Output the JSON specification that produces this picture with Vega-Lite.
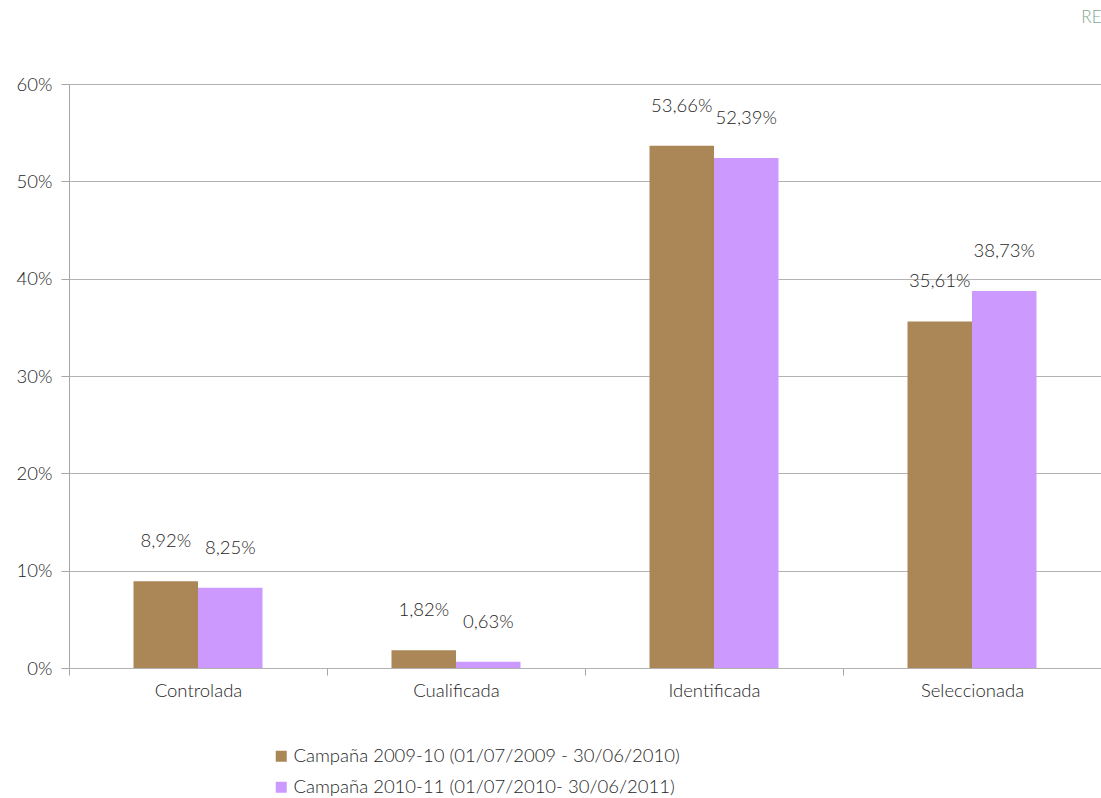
{
  "$schema": "https://vega.github.io/schema/vega-lite/v6.json",
  "width": 1032,
  "height": 584,
  "autosize": {"type": "none"},
  "padding": {"left": 69, "top": 84, "right": 0, "bottom": 130},
  "background": "white",
  "title": {
    "text": "RE",
    "anchor": "end",
    "align": "right",
    "offset": 58,
    "font": "Lato",
    "fontSize": 17,
    "fontWeight": 300,
    "color": "#7fa890",
    "dy": 10
  },
  "config": {
    "locale": {
      "number": {"decimal": ",", "thousands": ".", "grouping": [3], "currency": ["", " €"]}
    },
    "font": "Lato",
    "view": {"stroke": null},
    "axis": {
      "labelFont": "Lato",
      "labelFontSize": 18.5,
      "labelFontWeight": 300,
      "labelColor": "#262626",
      "domainColor": "#a6a6a6",
      "tickColor": "#a6a6a6",
      "gridColor": "#b3b3b3",
      "title": null
    }
  },
  "data": {
    "values": [
      {"categoria": "Controlada", "campana": "Campaña 2009-10 (01/07/2009 - 30/06/2010)", "valor": 0.0892},
      {"categoria": "Controlada", "campana": "Campaña 2010-11 (01/07/2010- 30/06/2011)", "valor": 0.0825},
      {"categoria": "Cualificada", "campana": "Campaña 2009-10 (01/07/2009 - 30/06/2010)", "valor": 0.0182},
      {"categoria": "Cualificada", "campana": "Campaña 2010-11 (01/07/2010- 30/06/2011)", "valor": 0.0063},
      {"categoria": "Identificada", "campana": "Campaña 2009-10 (01/07/2009 - 30/06/2010)", "valor": 0.5366},
      {"categoria": "Identificada", "campana": "Campaña 2010-11 (01/07/2010- 30/06/2011)", "valor": 0.5239},
      {"categoria": "Seleccionada", "campana": "Campaña 2009-10 (01/07/2009 - 30/06/2010)", "valor": 0.3561},
      {"categoria": "Seleccionada", "campana": "Campaña 2010-11 (01/07/2010- 30/06/2011)", "valor": 0.3873}
    ]
  },
  "encoding": {
    "x": {
      "field": "categoria",
      "type": "nominal",
      "sort": null,
      "scale": {"paddingInner": 0, "paddingOuter": 0},
      "axis": {
        "labelAngle": 0,
        "tickBand": "extent",
        "tickSize": 7,
        "labelPadding": 6,
        "domain": false
      }
    },
    "xOffset": {
      "field": "campana",
      "type": "nominal",
      "sort": null,
      "scale": {"paddingInner": 0, "paddingOuter": 1.064}
    },
    "y": {
      "field": "valor",
      "type": "quantitative",
      "scale": {"domain": [0, 0.6], "nice": false},
      "axis": {
        "format": ".0%",
        "values": [0, 0.1, 0.2, 0.3, 0.4, 0.5, 0.6],
        "tickSize": 8,
        "labelPadding": 9,
        "grid": true
      }
    }
  },
  "layer": [
    {
      "mark": {"type": "bar"},
      "encoding": {
        "color": {
          "field": "campana",
          "type": "nominal",
          "sort": null,
          "scale": {"range": ["#ab8657", "#cc99ff"]},
          "legend": {
            "title": null,
            "orient": "none",
            "legendX": 203,
            "legendY": 663,
            "direction": "vertical",
            "symbolType": "square",
            "symbolSize": 121,
            "symbolStrokeWidth": 0,
            "labelFont": "Lato",
            "labelFontSize": 18.5,
            "labelFontWeight": 300,
            "labelColor": "#262626",
            "labelLimit": 0,
            "labelOffset": 3,
            "rowPadding": 12
          }
        }
      }
    },
    {
      "mark": {"type": "text", "dy": -40, "font": "Lato", "fontSize": 18.5, "fontWeight": 300, "color": "#262626"},
      "encoding": {
        "text": {"field": "valor", "type": "quantitative", "format": ".2%"}
      }
    }
  ]
}
